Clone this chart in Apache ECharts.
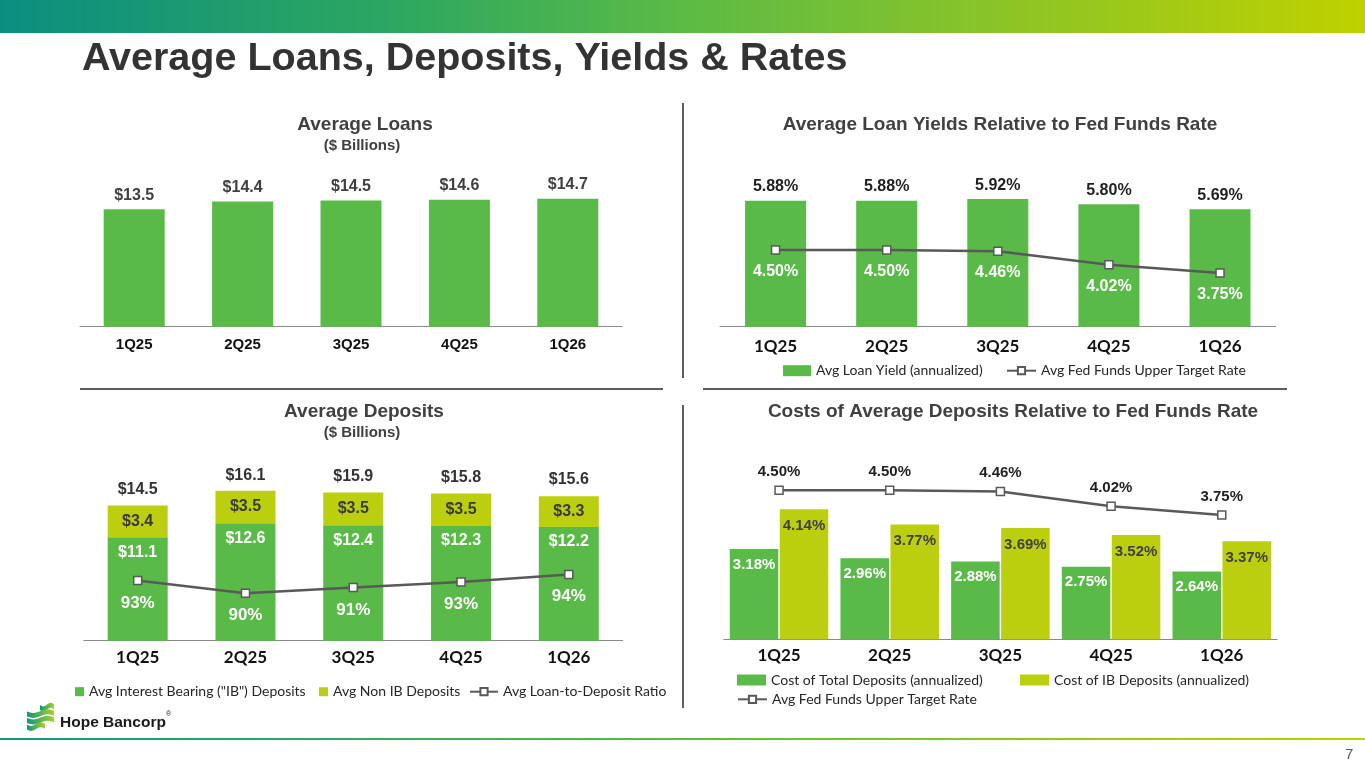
<!DOCTYPE html>
<html>
<head>
<meta charset="utf-8">
<script src="https://cdn.jsdelivr.net/npm/echarts@6/dist/echarts.min.js"></script>
<style>
html, body { margin: 0; padding: 0; background: #fff; }
#main { width: 1365px; height: 768px; }
</style>
</head>
<body>
<div id="main"></div>
<script>
// data
var quarters = ['1Q25', '2Q25', '3Q25', '4Q25', '1Q26'];
var avgLoans = [13.5, 14.4, 14.5, 14.6, 14.7];
var loanYield = [5.88, 5.88, 5.92, 5.80, 5.69];
var fedFunds = [4.50, 4.50, 4.46, 4.02, 3.75];
var ibDeposits = [11.1, 12.6, 12.4, 12.3, 12.2];
var nonIbDeposits = [3.4, 3.5, 3.5, 3.5, 3.3];
var totalDeposits = [14.5, 16.1, 15.9, 15.8, 15.6];
var loanToDeposit = [92.9, 90.2, 91.4, 92.6, 94.2];
var costTotalDep = [3.18, 2.96, 2.88, 2.75, 2.64];
var costIbDep = [4.14, 3.77, 3.69, 3.52, 3.37];

var GREEN = '#59ba47';
var LIME = '#bccf0f';
var LINE = '#595959';
var ARIAL = '"Liberation Sans", Arial, sans-serif';
var CAL = 'Lato, "Liberation Sans", sans-serif';

var chart = echarts.init(document.getElementById('main'));

function catAxis(gi, font, size, margin) {
  return {
    type: 'category', gridIndex: gi, data: quarters,
    axisLine: { lineStyle: { color: '#8a8a8a', width: 1 } },
    axisTick: { length: 5, lineStyle: { color: '#8a8a8a' } },
    axisLabel: { color: '#111', fontFamily: font, fontWeight: 'bold', fontSize: size, margin: margin }
  };
}
function valAxis(gi, min, max) {
  return { type: 'value', gridIndex: gi, min: min, max: max, show: false, splitLine: { show: false } };
}
function lbl(pos, color, size, dist, fmt) {
  return { show: true, position: pos, distance: dist, color: color, fontFamily: ARIAL,
           fontWeight: 'bold', fontSize: size, formatter: fmt };
}
function dollar(p) { return '$' + p.value.toFixed(1); }
function pct2(p) { return p.value.toFixed(2) + '%'; }
function pct0(p) { return Math.round(p.value) + '%'; }

function leg(name, left, cy, w, h, font, size, icon) {
  return {
    data: [icon ? { name: name, icon: icon } : name],
    left: left, top: cy - 8, itemWidth: w, itemHeight: h, padding: 0,
    selectedMode: false,
    textStyle: { fontFamily: font, fontSize: size, color: '#262626', lineHeight: 16 }
  };
}

// wavy stripe of the logo mark, as polygon points
function band(x0, x1, y, h) {
  var top = [], bot = [];
  for (var i = 0; i <= 12; i++) {
    var x = x0 + (x1 - x0) * i / 12;
    var dy = 1.6 * Math.sin(i / 12 * Math.PI * 2) - 0.8 * i / 12;
    top.push([x, y + dy]);
    bot.unshift([x, y + h + dy]);
  }
  return top.concat(bot);
}
function logoFill() {
  return new echarts.graphic.LinearGradient(0, 0, 1, 0, [
    { offset: 0, color: '#10967d' }, { offset: 1, color: '#a8d02c' }]);
}
function title(txt, x, y, size) {
  return { type: 'text', x: x, y: y, style: { text: txt, fill: '#404040',
    font: 'bold ' + size + 'px "Liberation Sans", Arial, sans-serif',
    textAlign: 'center', textVerticalAlign: 'middle', align: 'center', verticalAlign: 'middle' } };
}
function rule(x1, y1, x2, y2) {
  return { type: 'line', shape: { x1: x1, y1: y1, x2: x2, y2: y2 }, style: { stroke: '#262626', lineWidth: 1.5 } };
}

var option = {
  animation: false,
  grid: [
    { left: 80, top: 152.7, width: 542, height: 174 },
    { left: 720, top: 151.9, width: 555.6, height: 174.8 },
    { left: 83.8, top: 454.3, width: 538.9, height: 186.4 },
    { left: 723.7, top: 473.7, width: 553.4, height: 165.6 }
  ],
  xAxis: [
    catAxis(0, ARIAL, 15, 11),
    catAxis(1, CAL, 17, 11),
    catAxis(2, CAL, 17, 8),
    catAxis(3, CAL, 17, 8)
  ],
  yAxis: [
    valAxis(0, 0, 20),
    valAxis(1, 3, 7),
    valAxis(1, 2, 7.7),
    valAxis(2, 0, 20),
    valAxis(2, 80, 120),
    valAxis(3, 1, 5),
    valAxis(3, 0, 5)
  ],
  legend: [
    leg('Avg Loan Yield (annualized)', 783, 370.7, 28, 11, CAL, 14, 'rect'),
    leg('Avg Fed Funds Upper Target Rate', 1006, 370.7, 29, 9, CAL, 14),
    leg('Avg Interest Bearing ("IB") Deposits', 75, 691.7, 9, 9, CAL, 14, 'rect'),
    leg('Avg Non IB Deposits', 319, 691.7, 9, 9, CAL, 14, 'rect'),
    leg('Avg Loan-to-Deposit Ratio', 469, 691.7, 28, 9, CAL, 14),
    leg('Cost of Total Deposits (annualized)', 737, 680, 29, 11, CAL, 14, 'rect'),
    leg('Cost of IB Deposits (annualized)', 1020, 680, 29, 11, CAL, 14, 'rect'),
    leg('Avg Fed Funds Upper Target Rate', 737, 699.3, 29, 9, CAL, 14)
  ],
  series: [
    { type: 'bar', name: 'Average Loans', xAxisIndex: 0, yAxisIndex: 0, data: avgLoans,
      barWidth: 61, itemStyle: { color: GREEN },
      label: lbl('top', '#404040', 16, 6, dollar) },
    { type: 'bar', name: 'Avg Loan Yield (annualized)', xAxisIndex: 1, yAxisIndex: 1, data: loanYield,
      barWidth: 61, itemStyle: { color: GREEN },
      label: lbl('top', '#1f1f1f', 16, 6, pct2) },
    { type: 'line', name: 'Avg Fed Funds Upper Target Rate', xAxisIndex: 1, yAxisIndex: 2, data: fedFunds,
      symbol: 'rect', symbolSize: 8, lineStyle: { color: LINE, width: 2.5 },
      itemStyle: { color: '#fff', borderColor: LINE, borderWidth: 1.5 },
      label: lbl('bottom', '#fff', 16, 9, pct2) },
    { type: 'bar', name: 'Avg Interest Bearing ("IB") Deposits', xAxisIndex: 2, yAxisIndex: 3, data: ibDeposits,
      stack: 'dep', barWidth: 60, itemStyle: { color: GREEN },
      label: lbl('insideTop', '#fff', 16, 7, dollar) },
    { type: 'bar', name: 'Avg Non IB Deposits', xAxisIndex: 2, yAxisIndex: 3, data: nonIbDeposits,
      stack: 'dep', barWidth: 60, itemStyle: { color: LIME },
      label: lbl('inside', '#3a3a3a', 16, 5, dollar) },
    { type: 'line', name: 'totals', xAxisIndex: 2, yAxisIndex: 3, data: totalDeposits,
      symbol: 'circle', symbolSize: 1, lineStyle: { width: 0, opacity: 0 },
      itemStyle: { color: 'rgba(0,0,0,0)' },
      label: lbl('top', '#333', 16, 7, dollar) },
    { type: 'line', name: 'Avg Loan-to-Deposit Ratio', xAxisIndex: 2, yAxisIndex: 4, data: loanToDeposit,
      symbol: 'rect', symbolSize: 8, lineStyle: { color: LINE, width: 2.5 },
      itemStyle: { color: '#fff', borderColor: LINE, borderWidth: 1.5 },
      label: lbl('bottom', '#fff', 17, 9, pct0) },
    { type: 'bar', name: 'Cost of Total Deposits (annualized)', xAxisIndex: 3, yAxisIndex: 5, data: costTotalDep,
      barCategoryGap: '11%', barGap: '3%', itemStyle: { color: GREEN },
      label: lbl('insideTop', '#fff', 15, 8, pct2) },
    { type: 'bar', name: 'Cost of IB Deposits (annualized)', xAxisIndex: 3, yAxisIndex: 5, data: costIbDep,
      barCategoryGap: '11%', barGap: '3%', itemStyle: { color: LIME },
      label: lbl('insideTop', '#404040', 15, 9, pct2) },
    { type: 'line', name: 'Avg Fed Funds Upper Target Rate', xAxisIndex: 3, yAxisIndex: 6, data: fedFunds,
      symbol: 'rect', symbolSize: 8, lineStyle: { color: LINE, width: 2.5 },
      itemStyle: { color: '#fff', borderColor: LINE, borderWidth: 1.5 },
      label: lbl('top', '#1f1f1f', 15, 6, pct2) }
  ],
  graphic: [
    { type: 'rect', shape: { x: 0, y: 0, width: 1365, height: 33 },
      style: { fill: new echarts.graphic.LinearGradient(0, 0, 1, 0, [
        { offset: 0, color: '#0b8e80' }, { offset: 0.3, color: '#2fa860' },
        { offset: 0.5, color: '#5cba45' }, { offset: 0.7, color: '#85c22c' },
        { offset: 1, color: '#bfd100' }]) } },
    { type: 'text', x: 82, y: 59, style: { text: 'Average Loans, Deposits, Yields & Rates', fill: '#333333',
      font: 'bold 39.5px "Liberation Sans", Arial, sans-serif', textVerticalAlign: 'middle', verticalAlign: 'middle' } },
    title('Average Loans', 365, 125, 19),
    title('($ Billions)', 362, 146, 15),
    title('Average Loan Yields Relative to Fed Funds Rate', 1000, 125, 19),
    title('Average Deposits', 364, 412, 19),
    title('($ Billions)', 362, 433, 15),
    title('Costs of Average Deposits Relative to Fed Funds Rate', 1013, 412, 19),
    rule(683, 103, 683, 378),
    rule(683, 405, 683, 708),
    rule(80, 389, 663, 389),
    rule(703, 389, 1287, 389),
    { type: 'rect', shape: { x: 0, y: 738, width: 1365, height: 2 },
      style: { fill: new echarts.graphic.LinearGradient(0, 0, 1, 0, [
        { offset: 0, color: '#14957f' }, { offset: 0.5, color: '#5cba45' }, { offset: 1, color: '#bfd100' }]) } },
    { type: 'polygon', shape: { points: band(40, 54, 705, 5) }, style: { fill: logoFill() } },
    { type: 'polygon', shape: { points: band(27, 54, 711.5, 5) }, style: { fill: logoFill() } },
    { type: 'polygon', shape: { points: band(27, 54, 718, 5) }, style: { fill: logoFill() } },
    { type: 'polygon', shape: { points: band(27, 45, 724.5, 5) }, style: { fill: logoFill() } },
    { type: 'text', x: 60, y: 723, style: { text: 'Hope Bancorp', fill: '#1a1a1a',
      font: 'bold 15.5px "Liberation Sans", Arial, sans-serif', textVerticalAlign: 'middle', verticalAlign: 'middle' } },
    { type: 'text', x: 166, y: 714, style: { text: '\u00ae', fill: '#1a1a1a',
      font: '7px "Liberation Sans", Arial, sans-serif', textVerticalAlign: 'middle', verticalAlign: 'middle' } },
    { type: 'text', x: 1345, y: 755, style: { text: '7', fill: '#595959',
      font: '15px "Liberation Sans", Arial, sans-serif', textVerticalAlign: 'middle', verticalAlign: 'middle' } }
  ]
};

chart.setOption(option);
</script>
</body>
</html>
